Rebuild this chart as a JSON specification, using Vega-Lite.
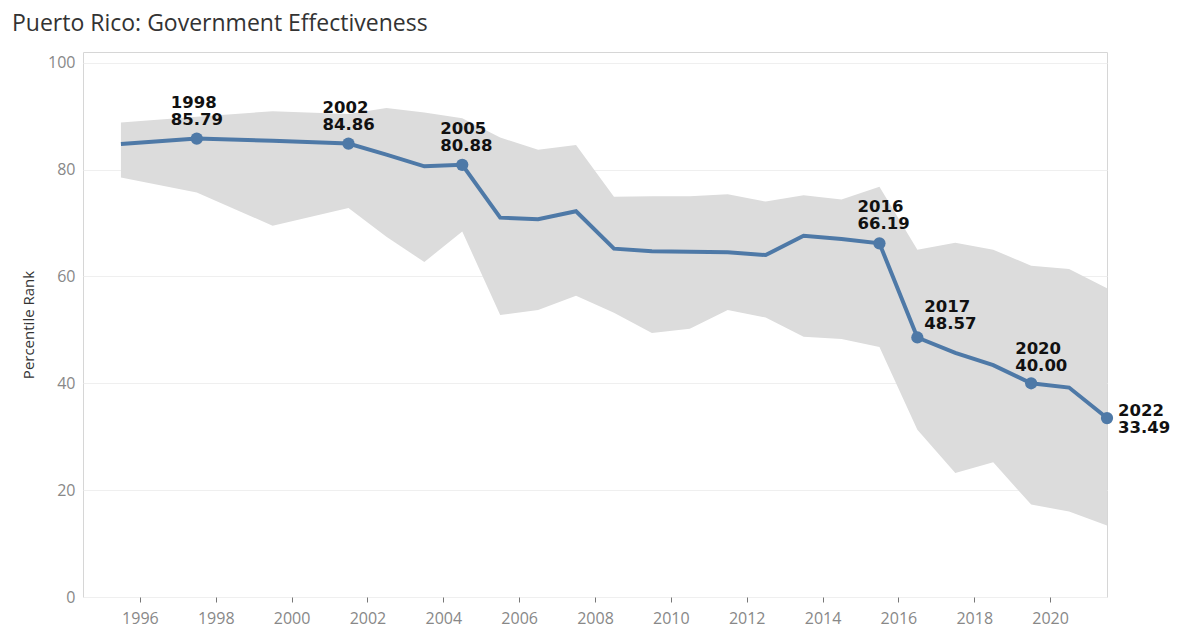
{
  "$schema": "https://vega.github.io/schema/vega-lite/v6.json",
  "width": 1024,
  "height": 545,
  "autosize": "none",
  "padding": {"left": 83, "top": 52, "right": 70, "bottom": 40},
  "background": "white",
  "title": {
    "text": "Puerto Rico: Government Effectiveness",
    "anchor": "start",
    "frame": "group",
    "dx": -71,
    "offset": 16,
    "font": "Open Sans",
    "fontSize": 23,
    "fontWeight": "normal",
    "color": "#333333"
  },
  "config": {
    "view": {"stroke": "#d6d6d6", "strokeWidth": 1},
    "axis": {"labelFont": "Open Sans", "titleFont": "Open Sans"},
    "text": {"font": "DejaVu Sans", "fontWeight": "bold", "fontSize": 16.5, "lineHeight": 17, "color": "#111111", "align": "left", "baseline": "alphabetic"}
  },
  "data": {
    "values": [
      {"year": 1996, "value": 84.8, "lower": 78.5, "upper": 88.8, "note": false},
      {"year": 1998, "value": 85.79, "lower": 75.7, "upper": 89.9, "note": true},
      {"year": 2000, "value": 85.4, "lower": 69.5, "upper": 90.9, "note": false},
      {"year": 2002, "value": 84.86, "lower": 72.8, "upper": 90.4, "note": true},
      {"year": 2003, "value": 82.8, "lower": 67.4, "upper": 91.5, "note": false},
      {"year": 2004, "value": 80.6, "lower": 62.7, "upper": 90.7, "note": false},
      {"year": 2005, "value": 80.88, "lower": 68.4, "upper": 89.6, "note": true},
      {"year": 2006, "value": 71.0, "lower": 52.8, "upper": 86.0, "note": false},
      {"year": 2007, "value": 70.7, "lower": 53.7, "upper": 83.7, "note": false},
      {"year": 2008, "value": 72.2, "lower": 56.4, "upper": 84.6, "note": false},
      {"year": 2009, "value": 65.2, "lower": 53.2, "upper": 74.9, "note": false},
      {"year": 2010, "value": 64.7, "lower": 49.4, "upper": 75.0, "note": false},
      {"year": 2011, "value": 64.6, "lower": 50.2, "upper": 75.0, "note": false},
      {"year": 2012, "value": 64.5, "lower": 53.7, "upper": 75.4, "note": false},
      {"year": 2013, "value": 64.0, "lower": 52.3, "upper": 74.0, "note": false},
      {"year": 2014, "value": 67.6, "lower": 48.7, "upper": 75.2, "note": false},
      {"year": 2015, "value": 67.0, "lower": 48.3, "upper": 74.4, "note": false},
      {"year": 2016, "value": 66.19, "lower": 46.8, "upper": 76.8, "note": true},
      {"year": 2017, "value": 48.57, "lower": 31.3, "upper": 65.0, "note": true},
      {"year": 2018, "value": 45.7, "lower": 23.2, "upper": 66.3, "note": false},
      {"year": 2019, "value": 43.4, "lower": 25.2, "upper": 65.0, "note": false},
      {"year": 2020, "value": 40.0, "lower": 17.3, "upper": 62.0, "note": true},
      {"year": 2021, "value": 39.2, "lower": 16.0, "upper": 61.4, "note": false},
      {"year": 2022, "value": 33.49, "lower": 13.4, "upper": 57.8, "note": true}
    ]
  },
  "transform": [
    {"calculate": "[toString(datum.year), format(datum.value, '.2f')]", "as": "label"}
  ],
  "encoding": {
    "x": {
      "field": "year",
      "type": "quantitative",
      "scale": {"domain": [1995, 2022], "nice": false, "zero": false},
      "axis": {
        "title": null,
        "values": [1996.5, 1998.5, 2000.5, 2002.5, 2004.5, 2006.5, 2008.5, 2010.5, 2012.5, 2014.5, 2016.5, 2018.5, 2020.5],
        "labelExpr": "'' + floor(datum.value)",
        "grid": false,
        "domain": false,
        "ticks": true,
        "tickSize": 5,
        "tickColor": "#777777",
        "labelColor": "#888888",
        "labelFontSize": 16,
        "labelPadding": 8
      }
    },
    "y": {"field": "value", "type": "quantitative"}
  },
  "layer": [
    {
      "mark": {"type": "area", "color": "#dcdcdc", "opacity": 1},
      "encoding": {
        "y": {
          "field": "lower",
          "type": "quantitative",
          "scale": {"domain": [0, 102], "nice": false, "zero": true},
          "axis": {
            "title": "Percentile Rank",
            "values": [0, 20, 40, 60, 80, 100],
            "grid": true,
            "gridColor": "#efefef",
            "domain": false,
            "ticks": false,
            "labelColor": "#888888",
            "labelFontSize": 16,
            "labelPadding": 8,
            "titleColor": "#333333",
            "titleFontSize": 15,
            "titleFontWeight": "normal",
            "titlePadding": 11,
            "encode": {"labels": {"update": {"dy": {"signal": "datum.value === 0 ? -13 : 0"}}}}
          }
        },
        "y2": {"field": "upper"}
      }
    },
    {
      "mark": {"type": "line", "color": "#4e79a7", "strokeWidth": 4}
    },
    {
      "transform": [{"filter": "datum.note"}],
      "mark": {"type": "circle", "size": 150, "opacity": 1, "color": "#4e79a7"}
    },
    {
      "transform": [{"filter": "datum.year == 1998 || datum.year == 2002"}],
      "mark": {"type": "text", "dx": -26, "dy": -31},
      "encoding": {"text": {"field": "label"}}
    },
    {
      "transform": [{"filter": "datum.year == 2005 || datum.year == 2016"}],
      "mark": {"type": "text", "dx": -22, "dy": -31},
      "encoding": {"text": {"field": "label"}}
    },
    {
      "transform": [{"filter": "datum.year == 2017"}],
      "mark": {"type": "text", "dx": 7, "dy": -25},
      "encoding": {"text": {"field": "label"}}
    },
    {
      "transform": [{"filter": "datum.year == 2020"}],
      "mark": {"type": "text", "dx": -16, "dy": -29},
      "encoding": {"text": {"field": "label"}}
    },
    {
      "transform": [{"filter": "datum.year == 2022"}],
      "mark": {"type": "text", "dx": 11, "dy": -2},
      "encoding": {"text": {"field": "label"}}
    }
  ]
}
